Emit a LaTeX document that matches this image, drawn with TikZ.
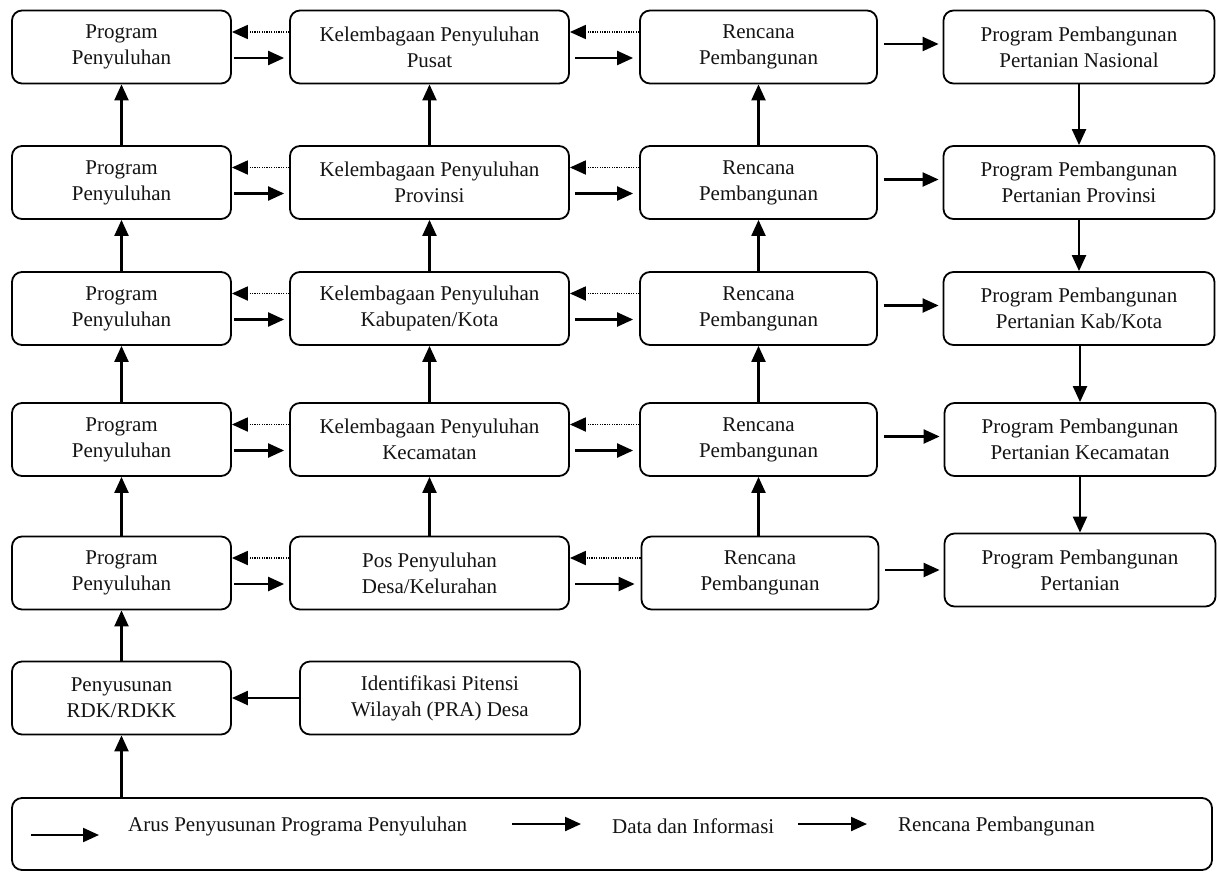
\documentclass[tikz,border=0pt]{standalone}
\usepackage{fontspec}
\setmainfont{Liberation Serif}
\usetikzlibrary{arrows.meta}
\begin{document}
\begin{tikzpicture}[x=1pt,y=-1pt,
  box/.style={draw=black, line width=1.8pt, rounded corners=10pt, align=center, inner sep=0pt,
              minimum height=73pt, font=\fontsize{21}{26}\selectfont, text=black!92},
  ca/.style={minimum width=219pt},
  cb/.style={minimum width=279pt},
  cc/.style={minimum width=237pt},
  cd/.style={minimum width=271pt},
  arr/.style={line width=2.2pt, -{Triangle[length=16pt,width=14pt]}},
  dotarr/.style={line width=1.8pt, dash pattern=on 1.2pt off 1.2pt, -{Triangle[length=16pt,width=14pt]}},
  lbl/.style={font=\fontsize{21}{24}\selectfont, inner sep=0pt, text=black!92, anchor=west}]
\useasboundingbox (0,0) rectangle (1217,873);
\fill[white] (0,0) rectangle (1217,873);

% column 1
\node[box,ca] (p1) at (121.5,47) {Program\\Penyuluhan};
\node[box,ca] (p2) at (121.5,182.5) {Program\\Penyuluhan};
\node[box,ca] (p3) at (121.5,308.5) {Program\\Penyuluhan};
\node[box,ca] (p4) at (121.5,439.5) {Program\\Penyuluhan};
\node[box,ca] (p5) at (121.5,573) {Program\\Penyuluhan};
\node[box,ca] (p6) at (121.5,698) {Penyusunan\\RDK/RDKK};
% column 2
\node[box,cb] (k1) at (429.5,47) {Kelembagaan Penyuluhan\\Pusat};
\node[box,cb] (k2) at (429.5,182.5) {Kelembagaan Penyuluhan\\Provinsi};
\node[box,cb] (k3) at (429.5,308.5) {Kelembagaan Penyuluhan\\Kabupaten/Kota};
\node[box,cb] (k4) at (429.5,439.5) {Kelembagaan Penyuluhan\\Kecamatan};
\node[box,cb] (k5) at (429.5,573) {Pos Penyuluhan\\Desa/Kelurahan};
\node[box,minimum width=280pt] (k6) at (440,698) {Identifikasi Pitensi\\Wilayah (PRA) Desa};
% column 3
\node[box,cc] (r1) at (758.5,47) {Rencana\\Pembangunan};
\node[box,cc] (r2) at (758.5,182.5) {Rencana\\Pembangunan};
\node[box,cc] (r3) at (758.5,308.5) {Rencana\\Pembangunan};
\node[box,cc] (r4) at (758.5,439.5) {Rencana\\Pembangunan};
\node[box,cc] (r5) at (760,573) {Rencana\\Pembangunan};
% column 4
\node[box,cd] (g1) at (1079,47) {Program Pembangunan\\Pertanian Nasional};
\node[box,cd] (g2) at (1079,182.5) {Program Pembangunan\\Pertanian Provinsi};
\node[box,cd] (g3) at (1079,308.5) {Program Pembangunan\\Pertanian Kab/Kota};
\node[box,cd] (g4) at (1080,439.5) {Program Pembangunan\\Pertanian Kecamatan};
\node[box,cd] (g5) at (1080,570) {Program Pembangunan\\Pertanian};

% vertical arrows (straight)
\foreach \a/\b in {p2/p1,p3/p2,p4/p3,p5/p4,p6/p5,k2/k1,k3/k2,k4/k3,k5/k4,r2/r1,r3/r2,r4/r3}
  \draw[arr] (\a.north) -- (\b.south);
\draw[arr] (r5.north -| r4.south) -- (r4.south);
\foreach \a/\b in {g1/g2,g2/g3}
  \draw[arr] (\a.south) -- (\b.north);
\draw[arr] (g3.south -| g4.north) -- (g4.north);
\draw[arr] (g4.south) -- (g5.north);

% horizontal arrows
\foreach \i in {1,...,5}{
  \draw[dotarr] ([yshift=15pt]k\i.west) -- ([yshift=15pt]p\i.east);
  \draw[arr, shorten <=2pt, shorten >=5pt] ([yshift=-11pt]p\i.east) -- ([yshift=-11pt]k\i.west);
  \draw[dotarr] ([yshift=15pt]r\i.west) -- ([yshift=15pt]k\i.east);
  \draw[arr, shorten <=5pt, shorten >=6pt] ([yshift=-11pt]k\i.east) -- ([yshift=-11pt]r\i.west);
  \draw[arr, shorten <=6pt, shorten >=4pt] ([yshift=3pt]r\i.east) -- ([yshift=3pt]r\i.east -| g\i.west);
}
\draw[arr] (k6.west) -- (k6.west -| p6.east);

% legend
\node[draw=black, line width=1.8pt, rounded corners=10pt, minimum width=1200pt, minimum height=72pt, inner sep=0pt] (leg) at (612,834) {};
\draw[arr] (leg.north -| p6.south) -- (p6.south);
\coordinate (a1s) at (31,835); \coordinate (a1e) at (99,835);
\coordinate (a2s) at (512,824); \coordinate (a2e) at (581,824);
\coordinate (a3s) at (798,824); \coordinate (a3e) at (867,824);
\draw[arr] (a1s) -- (a1e);
\draw[arr] (a2s) -- (a2e);
\draw[arr] (a3s) -- (a3e);
\node[lbl] (t1) at (128,826) {Arus Penyusunan Programa Penyuluhan};
\node[lbl] (t2) at (612,826) {Data dan Informasi};
\node[lbl] (t3) at (898,826) {Rencana Pembangunan};
\end{tikzpicture}
\end{document}
